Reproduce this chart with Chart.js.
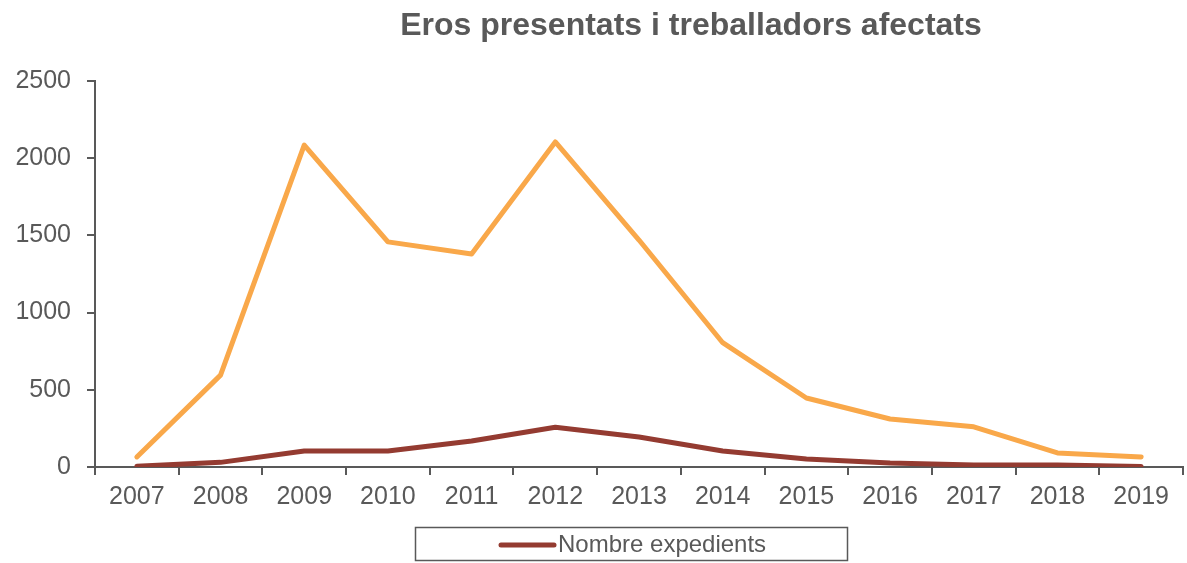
<!DOCTYPE html>
<html>
<head>
<meta charset="utf-8">
<script src="https://cdn.jsdelivr.net/npm/chart.js@4/dist/chart.umd.min.js"></script>
<style>
html,body{margin:0;padding:0;background:#fff;}
#wrap{width:1187px;height:563px;position:relative;}
</style>
</head>
<body>
<div id="wrap"><canvas id="c" width="1187" height="563"></canvas></div>
<script>
const titleText = "Eros presentats i treballadors afectats";
const years = ["2007","2008","2009","2010","2011","2012","2013","2014","2015","2016","2017","2018","2019"];
const treballadors = [65, 595, 2085, 1458, 1380, 2105, 1470, 805, 447, 311, 260, 91, 65];
const expedients = [5, 30, 103, 103, 168, 258, 194, 104, 52, 26, 13, 13, 3];
const yTicks = [0, 500, 1000, 1500, 2000, 2500];
const legendLabel = "Nombre expedients";

const TXT = "#595959";
const ORANGE = "#F9A84A";
const DARKRED = "#943B31";
const FONT = "'Liberation Sans', Arial, sans-serif";

const overlay = {
  id: 'overlay',
  afterDraw(chart) {
    const ctx = chart.ctx;
    ctx.save();
    // title
    ctx.fillStyle = TXT;
    ctx.font = "bold 32px " + FONT;
    ctx.textAlign = "center";
    ctx.textBaseline = "middle";
    ctx.fillText(titleText, 691, 26);
    // legend box
    ctx.strokeStyle = TXT;
    ctx.lineWidth = 1.5;
    ctx.strokeRect(415.5, 527.5, 432, 33);
    ctx.strokeStyle = DARKRED;
    ctx.lineWidth = 5;
    ctx.lineCap = "round";
    ctx.beginPath();
    ctx.moveTo(501, 545);
    ctx.lineTo(554, 545);
    ctx.stroke();
    ctx.fillStyle = TXT;
    ctx.font = "24px " + FONT;
    ctx.textAlign = "left";
    ctx.fillText(legendLabel, 558, 545);
    ctx.restore();
  }
};

new Chart(document.getElementById('c'), {
  type: 'line',
  data: {
    labels: years,
    datasets: [
      { label: "Treballadors afectats", data: treballadors, borderColor: ORANGE, borderWidth: 5, pointRadius: 0, tension: 0, borderCapStyle: 'round', borderJoinStyle: 'round' },
      { label: legendLabel, data: expedients, borderColor: DARKRED, borderWidth: 5, pointRadius: 0, tension: 0, borderCapStyle: 'round', borderJoinStyle: 'round' }
    ]
  },
  options: {
    responsive: false,
    animation: false,
    devicePixelRatio: 1,
    layout: { padding: { top: 81, right: 4, bottom: 46, left: 0 } },
    plugins: { legend: { display: false }, title: { display: false }, tooltip: { enabled: false } },
    scales: {
      x: {
        offset: true,
        grid: { display: true, drawOnChartArea: false, offset: true, drawTicks: true, tickLength: 8, color: TXT, lineWidth: 2 },
        border: { display: true, color: TXT, width: 2 },
        ticks: { color: TXT, font: { family: FONT, size: 25 }, padding: 7, maxRotation: 0, autoSkip: false },
        afterFit(scale) { scale.height = 50; }
      },
      y: {
        min: 0, max: 2500,
        afterBuildTicks(scale) { scale.ticks = yTicks.map(v => ({ value: v })); },
        grid: { display: true, drawOnChartArea: false, drawTicks: true, tickLength: 8, color: TXT, lineWidth: 2 },
        border: { display: true, color: TXT, width: 2 },
        ticks: { color: TXT, font: { family: FONT, size: 25 }, padding: 16, callback: (v) => String(v) },
        afterFit(scale) { scale.width = 95; }
      }
    }
  },
  plugins: [overlay]
});
</script>
</body>
</html>
